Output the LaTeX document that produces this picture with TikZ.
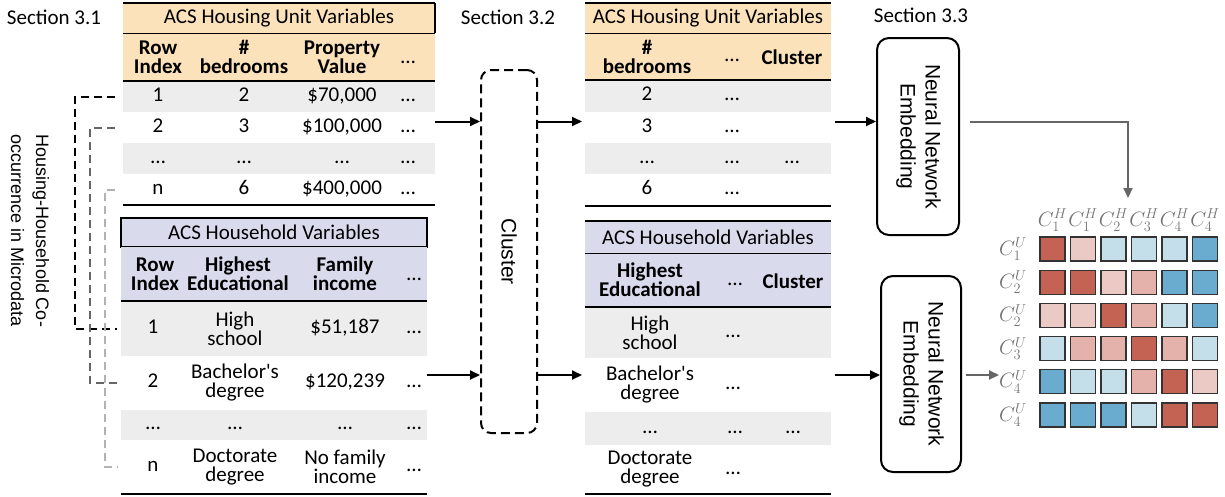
\documentclass[tikz,border=0pt]{standalone}
\usepackage{fontspec}
\setmainfont{Carlito}
\newfontfamily\arialfont{Liberation Sans}
\usetikzlibrary{arrows.meta,positioning}

\definecolor{housing}{RGB}{252,226,186}
\definecolor{household}{RGB}{218,218,237}
\definecolor{rowgray}{RGB}{237,237,237}
\definecolor{cred}{RGB}{196,98,84}
\definecolor{cpink}{RGB}{235,202,197}
\definecolor{crose}{RGB}{228,178,170}
\definecolor{cice}{RGB}{196,222,234}
\definecolor{cblue}{RGB}{106,172,208}

\tikzset{
	txt/.style={font=\fontsize{21}{19}\selectfont, align=center, inner sep=0pt},
	cell/.style={txt, text height=13pt, text depth=4pt},
	hdr/.style={txt, font=\fontsize{21}{19}\selectfont\bfseries},
	band/.style={inner sep=0pt, outer sep=0pt, minimum width=#1},
	rule/.style={line width=2.6pt},
	thinrule/.style={line width=1pt},
	link/.style={line width=2pt, dash pattern=on 8pt off 5pt, shorten <=8pt, shorten >=4pt},
	arr/.style={line width=2pt, -{Triangle[length=10pt,width=9pt]}},
	garr/.style={arr, black!60},
	nnbox/.style={draw, line width=2pt, rounded corners=12pt, inner sep=0pt, font=\arialfont\fontsize{21}{25}\selectfont},
	clusterbox/.style={draw, line width=2pt, dash pattern=on 9pt off 5pt, rounded corners=10pt, inner sep=0pt, font=\arialfont\fontsize{21}{25}\selectfont},
	cellbox/.style={draw=black!80, line width=1.2pt, minimum width=25pt, minimum height=24pt, inner sep=0pt},
	mlabel/.style={text=black!55, inner sep=0pt, font=\fontsize{20}{20}\selectfont}
}

\begin{document}
\begin{tikzpicture}[x=1pt, y=-1pt]
	\useasboundingbox (0,0) rectangle (1225,496);

	% section titles
	\node[txt] (s1) at (54,17) {Section 3.1};
	\node[txt] (s2) at (508,17) {Section 3.2};
	\node[txt] (s3) at (921,15) {Section 3.3};

	\node[txt, rotate=-90, font=\arialfont\fontsize{18}{25}\selectfont] (cooc) at (30,231) {Housing-Household Co-\\occurrence in Microdata};

	% ACS housing unit table (section 3.1)
	\node[band=312, fill=housing, minimum height=30] (hut) at (279,18) {};
	\node[band=312, fill=housing, minimum height=48] (huh) at (279,57) {};
	\node[band=312, fill=rowgray, minimum height=31] (h1) at (279,96.5) {};
	\node[band=312, minimum height=31] (h2) at (279,127.5) {};
	\node[band=312, fill=rowgray, minimum height=31] (h3) at (279,158.5) {};
	\node[band=312, minimum height=31] (h4) at (279,189.5) {};
	\draw[rule] (hut.north west) -- (hut.north east);
	\draw[line width=1.6pt] (hut.north east) -- (hut.south east);
	\draw[thinrule] (hut.south west) -- (hut.south east);
	\draw[rule] (huh.south west) -- (huh.south east);
	\draw[rule] (h4.south west) -- (h4.south east);

	\node[txt] (hutt) at (279,18) {ACS Housing Unit Variables};
	\node[hdr] (hua) at (158,57) {Row\\Index};
	\node[hdr] (hub) at (244,57) {\#\\bedrooms};
	\node[hdr] (huc) at (342,57) {Property\\Value};
	\node[hdr, cell] (hud) at (408,59) {…};
	\node[cell] (h1a) at (158,96.5) {1};
	\node[cell] (h1b) at (244,96.5) {2};
	\node[cell] (h1c) at (342,96.5) {\$70,000};
	\node[cell] (h1d) at (408,96.5) {…};
	\node[cell] (h2a) at (158,127.5) {2};
	\node[cell] (h2b) at (244,127.5) {3};
	\node[cell] (h2c) at (342,127.5) {\$100,000};
	\node[cell] (h2d) at (408,127.5) {…};
	\node[cell] (h3a) at (158,158.5) {…};
	\node[cell] (h3b) at (244,158.5) {…};
	\node[cell] (h3c) at (342,158.5) {…};
	\node[cell] (h3d) at (408,158.5) {…};
	\node[cell] (h4a) at (158,189.5) {n};
	\node[cell] (h4b) at (244,189.5) {6};
	\node[cell] (h4c) at (342,189.5) {\$400,000};
	\node[cell] (h4d) at (408,189.5) {…};

	% ACS household table (section 3.1)
	\node[band=306, fill=household, draw, line width=1.3pt, minimum height=29] (hht) at (274,232.5) {};
	\node[band=306, fill=household, minimum height=54] (hhh) at (274,274) {};
	\node[band=306, fill=rowgray, minimum height=55] (p1) at (274,328.5) {};
	\node[band=306, minimum height=54] (p2) at (274,383) {};
	\node[band=306, fill=rowgray, minimum height=30] (p3) at (274,425) {};
	\node[band=306, minimum height=54] (p4) at (274,467) {};
	\draw[rule] (hhh.south west) -- (hhh.south east);
	\draw[rule] (p4.south west) -- (p4.south east);

	\node[txt] (hhtt) at (274,232.5) {ACS Household Variables};
	\node[hdr] (hha) at (155,274) {Row\\Index};
	\node[hdr] (hhb) at (238,274) {Highest\\Educational};
	\node[hdr] (hhc) at (345,274) {Family\\income};
	\node[hdr, cell] (hhd) at (414,276) {…};
	\node[cell] (p1a) at (153,328.5) {1};
	\node[txt] (p1b) at (235,328.5) {High\\school};
	\node[cell] (p1c) at (345,328.5) {\$51,187};
	\node[cell] (p1d) at (414,328.5) {…};
	\node[cell] (p2a) at (153,383) {2};
	\node[txt] (p2b) at (235,383) {Bachelor\textquotesingle s\\degree};
	\node[cell] (p2c) at (345,383) {\$120,239};
	\node[cell] (p2d) at (414,383) {…};
	\node[cell] (p3a) at (153,425) {…};
	\node[cell] (p3b) at (235,425) {…};
	\node[cell] (p3c) at (345,425) {…};
	\node[cell] (p3d) at (414,425) {…};
	\node[cell] (p4a) at (153,467) {n};
	\node[txt] (p4b) at (235,467) {Doctorate\\degree};
	\node[txt] (p4c) at (345,467) {No family\\income};
	\node[cell] (p4d) at (414,467) {…};

	% co-occurrence links
	\draw[link, black] (h1.west) -- ++(-48,0) |- (p1.west);
	\draw[link, black!60] (h2.west) -- ++(-33,0) |- (p2.west);
	\draw[link, black!30] (h4.west) -- ++(-18,0) |- (p4.west);

	% clustering (section 3.2)
	\node[clusterbox, minimum width=56, minimum height=363] (clu) at (509,251.5) {\rotatebox{-90}{Cluster}};

	% clustered housing unit table
	\node[band=246, fill=housing, minimum height=30] (mut) at (708,18) {};
	\node[band=246, fill=housing, minimum height=47] (muh) at (708,56.5) {};
	\node[band=246, fill=rowgray, minimum height=32] (u1) at (708,96) {};
	\node[band=246, minimum height=31] (u2) at (708,127.5) {};
	\node[band=246, fill=rowgray, minimum height=31] (u3) at (708,158.5) {};
	\node[band=246, minimum height=32] (u4) at (708,190) {};
	\draw[rule] (mut.north west) -- (mut.north east);
	\draw[thinrule] (mut.south west) -- (mut.south east);
	\draw[rule] (muh.south west) -- (muh.south east);
	\draw[rule] (u4.south west) -- (u4.south east);

	\node[txt] (mutt) at (708,18) {ACS Housing Unit Variables};
	\node[hdr] (mua) at (647,56.5) {\#\\bedrooms};
	\node[hdr, cell] (mub) at (732,56.5) {…};
	\node[hdr] (muc) at (792,57.5) {Cluster};
	\node[cell] (u1a) at (647,96) {2};
	\node[cell] (u1b) at (732,96) {…};
	\node[cell] (u2a) at (647,127.5) {3};
	\node[cell] (u2b) at (732,127.5) {…};
	\node[cell] (u3a) at (647,158.5) {…};
	\node[cell] (u3b) at (732,158.5) {…};
	\node[cell] (u3c) at (792,158.5) {…};
	\node[cell] (u4a) at (647,190) {6};
	\node[cell] (u4b) at (732,190) {…};

	% clustered household table
	\node[band=246, fill=household, minimum height=32] (mht) at (708,237) {};
	\node[band=246, fill=household, minimum height=54] (mhh) at (708,280) {};
	\node[band=246, fill=rowgray, minimum height=51] (q1) at (708,332.5) {};
	\node[band=246, minimum height=54] (q2) at (708,385) {};
	\node[band=246, fill=rowgray, minimum height=33] (q3) at (708,428.5) {};
	\node[band=246, minimum height=49] (q4) at (708,469.5) {};
	\draw[rule] (mht.north west) -- (mht.north east);
	\draw[thinrule] (mht.south west) -- (mht.south east);
	\draw[rule] (mhh.south west) -- (mhh.south east);
	\draw[rule] (q4.south west) -- (q4.south east);

	\node[txt] (mhtt) at (708,237) {ACS Household Variables};
	\node[hdr] (mha) at (650,280) {Highest\\Educational};
	\node[hdr, cell] (mhb) at (735,281) {…};
	\node[hdr] (mhc) at (793,281) {Cluster};
	\node[txt] (q1a) at (650,332.5) {High\\school};
	\node[cell] (q1b) at (733,332.5) {…};
	\node[txt] (q2a) at (650,385) {Bachelor\textquotesingle s\\degree};
	\node[cell] (q2b) at (733,385) {…};
	\node[cell] (q3a) at (650,428.5) {…};
	\node[cell] (q3b) at (735,428.5) {…};
	\node[cell] (q3c) at (793,428.5) {…};
	\node[txt] (q4a) at (650,469.5) {Doctorate\\degree};
	\node[cell] (q4b) at (733,469.5) {…};

	% embedding (section 3.3)
	\node[nnbox, minimum width=82, minimum height=197] (nn1) at (918,136.5) {\rotatebox{-90}{\begin{tabular}{@{}c@{}}Neural Network\\Embedding\end{tabular}}};
	\node[nnbox, minimum width=80, minimum height=196] (nn2) at (921,374) {\rotatebox{-90}{\begin{tabular}{@{}c@{}}Neural Network\\Embedding\end{tabular}}};

	% co-occurrence matrix
	\foreach \i/\k in {1/1,2/1,3/2,4/3,5/4,6/4}
		\node[mlabel] (c\i) at ({1052.5+30.5*(\i-1)},220) {$C^{H}_{\k}$};
	\foreach \i/\k in {1/1,2/2,3/2,4/3,5/4,6/4}
		\node[mlabel] (r\i) at (1013,{249+33.2*(\i-1)}) {$C^{U}_{\k}$};
	\foreach \row/\colors in {1/{cred,cpink,cice,cice,cice,cblue},
			2/{cred,cred,cpink,crose,cblue,cblue},
			3/{cpink,cpink,cred,crose,cice,cblue},
			4/{cice,crose,crose,cred,crose,cice},
			5/{cblue,cice,cice,crose,cred,cpink},
			6/{cblue,cblue,cblue,cice,cred,cred}}
		\foreach \c [count=\col] in \colors
			\node[cellbox, fill=\c] (m\row\col) at ({1052.5+30.5*(\col-1)},{249+33.2*(\row-1)}) {};
	\coordinate (mtop) at (1128,198);

	% flow
	\coordinate (a1) at ([yshift=6pt]h2.east);
	\coordinate (a2) at ([yshift=8pt]p2.east);
	\draw[arr] (a1) -- (a1 -| clu.west);
	\draw[arr] (a2) -- (a2 -| clu.west);
	\draw[arr, shorten >=3pt] (a1 -| clu.east) -- (a1 -| u2.west);
	\draw[arr, shorten >=3pt] (a2 -| clu.east) -- (a2 -| q2.west);
	\draw[arr, shorten <=4pt] (a1 -| u2.east) -- (a1 -| nn1.west);
	\draw[arr, shorten <=4pt] (a2 -| q2.east) -- (a2 -| nn2.west);
	\draw[garr, shorten <=10pt] (a1 -| nn1.east) -| (mtop);
	\draw[garr, shorten <=4pt] (a2 -| nn2.east) -- (a2 -| r5.west);
\end{tikzpicture}
\end{document}
